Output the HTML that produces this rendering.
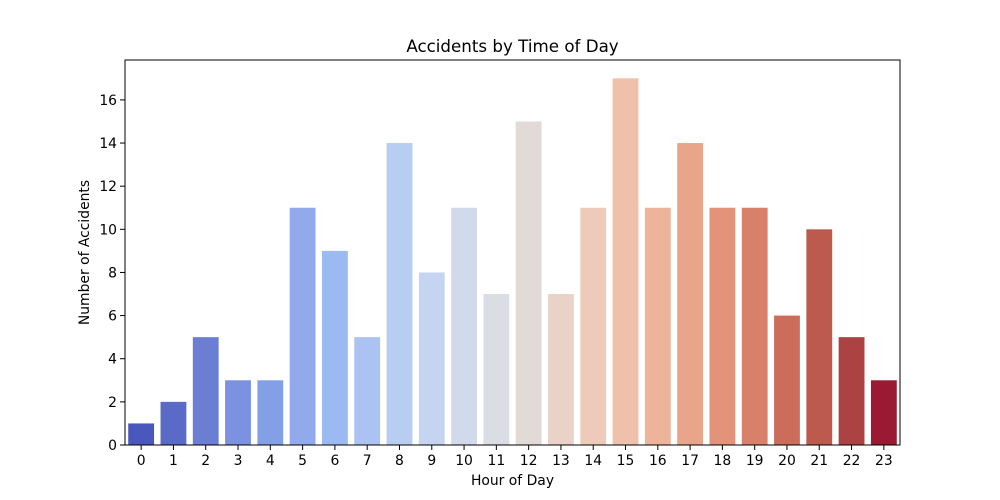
<!DOCTYPE html>
<html><head><meta charset="utf-8"><style>
html,body{margin:0;padding:0;background:#fff;overflow:hidden;width:1000px;height:500px;}
svg{display:block;}
svg text{font-family:"DejaVu Sans","Liberation Sans",sans-serif;fill:#000;}
</style></head><body>
<svg id="chart" width="1000" height="500"></svg>
<script>
const hours = ["0","1","2","3","4","5","6","7","8","9","10","11","12","13","14","15","16","17","18","19","20","21","22","23"];
const accidents = [1,2,5,3,3,11,9,5,14,8,11,7,15,7,11,17,11,14,11,11,6,10,5,3];
const yTicks = [0,2,4,6,8,10,12,14,16];
const barColors = ["#4a57bc","#5a6bc7","#6a7fd4","#7b92e0","#83a0e6","#90aaec","#9bbaf2","#aac3f2","#b8cdf2","#c5d4f0","#d1daeb","#dadde3","#e2dad6","#e9d3c8","#eecbb9","#efc1ab","#eeb49a","#e9a58a","#e2937a","#d8806a","#cc6d5b","#bd5a4e","#ac4241","#9a1a33"];

const NS="http://www.w3.org/2000/svg";
const svg=document.getElementById('chart');
const L=125,R=900,T=60,B=445;
const yMax=Math.max(...accidents)*1.05;
const band=(R-L)/hours.length;
const xC=i=>L+band*(i+0.5);
const y=v=>B-(v/yMax)*(B-T);
function mk(tag,attrs){const e=document.createElementNS(NS,tag);for(const k in attrs)e.setAttribute(k,attrs[k]);svg.appendChild(e);return e;}

accidents.forEach((v,i)=>{
  const r=mk('rect',{x:xC(i)-band*0.4,y:y(v),width:band*0.8,height:B-y(v),fill:barColors[i]});
  
  
});
const frame=mk('rect',{x:L,y:T,width:R-L,height:B-T,fill:'none',stroke:'#000','stroke-width':1});



hours.forEach((h,i)=>{
  mk('line',{x1:xC(i),x2:xC(i),y1:B,y2:B+5,stroke:'#000','stroke-width':1});
  const t=mk('text',{x:xC(i),y:B+20,'text-anchor':'middle','font-size':13.9});
  t.textContent=h;
  
  
});
yTicks.forEach(v=>{
  mk('line',{x1:L-5,x2:L,y1:y(v),y2:y(v),stroke:'#000','stroke-width':1});
  const t=mk('text',{x:L-8,y:y(v)+5,'text-anchor':'end','font-size':13.9});
  t.textContent=v;
  
  
});
const title=mk('text',{x:(L+R)/2,y:52,'text-anchor':'middle','font-size':16.7});
title.textContent='Accidents by Time of Day';


const xt=mk('text',{x:(L+R)/2,y:485,'text-anchor':'middle','font-size':13.9});
xt.textContent='Hour of Day';


const yt=mk('text',{x:89,y:(T+B)/2,'text-anchor':'middle','font-size':13.9,transform:'rotate(-90 89 '+((T+B)/2)+')'});
yt.textContent='Number of Accidents';


</script>
</body></html>
